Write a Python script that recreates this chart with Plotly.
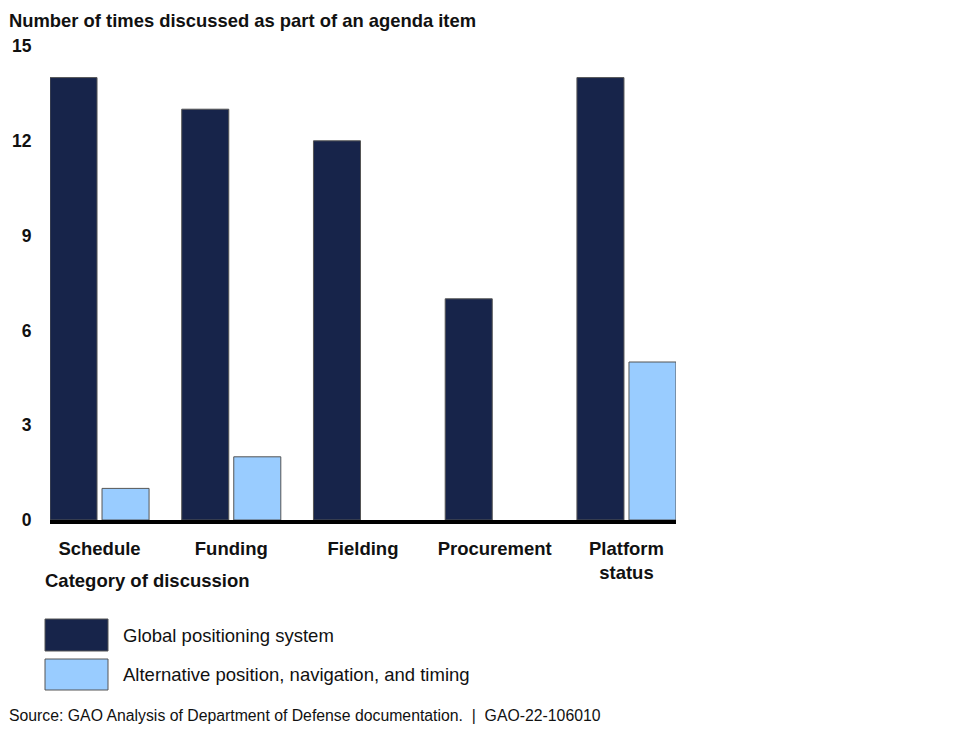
import plotly.graph_objects as go

categories = ["Schedule", "Funding", "Fielding", "Procurement", "Platform<br>status"]
gps_values = [14, 13, 12, 7, 14]
apnt_values = [1, 2, 0, 0, 5]
series_names = ["Global positioning system", "Alternative position, navigation, and timing"]
y_ticks = [0, 3, 6, 9, 12, 15]

FONT = "Liberation Sans, Arial, sans-serif"
DARK = "#17244a"
LIGHT = "#99ccff"
TXT = "#111111"

# The page is offset by the 8px body margin, so the figure is 16px smaller
W, H = 967 - 16, 732 - 16
OFF = 8
# plot area in reference pixel coordinates
L, R, T, B = 50, 676, 46, 520


def px(ref):
    return (ref - L) / (R - L)


def py(ref):
    return (B - ref) / (B - T)


def outline(vals):
    return [1 if v > 0 else 0 for v in vals]


fig = go.Figure()
fig.add_trace(go.Bar(x=categories, y=gps_values, name=series_names[0],
                     marker=dict(color=DARK, line=dict(color="#555555", width=outline(gps_values)))))
fig.add_trace(go.Bar(x=categories, y=apnt_values, name=series_names[1],
                     marker=dict(color=LIGHT, line=dict(color="#555555", width=outline(apnt_values)))))

fig.update_layout(
    width=W, height=H,
    margin=dict(l=L - OFF, r=W - (R - OFF), t=T - OFF, b=H - (B - OFF), autoexpand=False),
    barmode="group", bargap=0.21, bargroupgap=0.096,
    plot_bgcolor="white", paper_bgcolor="white",
    showlegend=False,
    font=dict(family=FONT, color=TXT),
)
fig.update_xaxes(type="category", range=[-0.376, 4.376], showgrid=False, automargin=False,
                 showline=True, linecolor="black", linewidth=4,
                 ticks="outside", ticklen=9, tickcolor="rgba(0,0,0,0)",
                 tickfont=dict(size=18.5, family=FONT, color=TXT, weight="bold"))
fig.update_yaxes(range=[0, 15], tickvals=y_ticks, showgrid=False, zeroline=False, automargin=False,
                 showline=False, ticks="outside", ticklen=14, tickcolor="rgba(0,0,0,0)",
                 tickfont=dict(size=17.5, family=FONT, color=TXT, weight="bold"))

fig.add_annotation(text="<b>Number of times discussed as part of an agenda item</b>",
                   xref="paper", yref="paper", x=px(7), y=py(20),
                   xanchor="left", yanchor="middle", showarrow=False,
                   font=dict(size=18.4, family=FONT, color=TXT))
fig.add_annotation(text="<b>Category of discussion</b>",
                   xref="paper", yref="paper", x=px(43), y=py(580),
                   xanchor="left", yanchor="middle", showarrow=False,
                   font=dict(size=18.5, family=FONT, color=TXT))

legend_rows = [(619, 651, DARK, series_names[0]), (659, 690, LIGHT, series_names[1])]
for y0, y1, col, name in legend_rows:
    fig.add_shape(type="rect", xref="paper", yref="paper",
                  x0=px(45), x1=px(108), y0=py(y1), y1=py(y0),
                  fillcolor=col, line=dict(color="#555555", width=1))
    fig.add_annotation(text=name, xref="paper", yref="paper",
                       x=px(121), y=py((y0 + y1) / 2), xanchor="left", yanchor="middle",
                       showarrow=False, font=dict(size=18.5, family=FONT, color=TXT))

fig.add_annotation(text="Source: GAO Analysis of Department of Defense documentation.  |  GAO-22-106010",
                   xref="paper", yref="paper", x=px(7), y=py(715),
                   xanchor="left", yanchor="middle", showarrow=False,
                   font=dict(size=15.8, family=FONT, color=TXT))

fig.write_html("out.html")
